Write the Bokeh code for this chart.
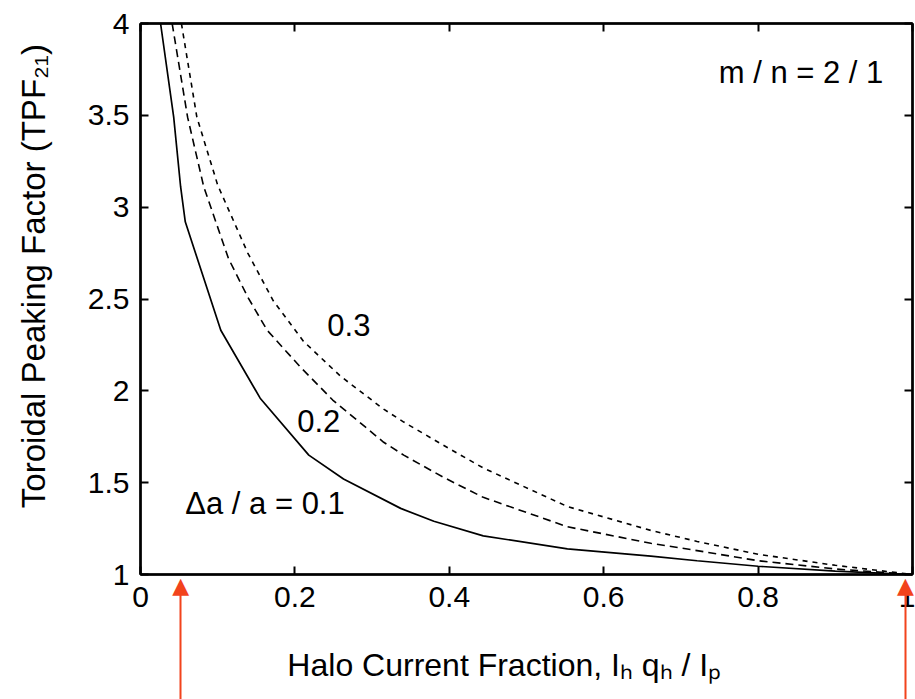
from bokeh.plotting import figure
from bokeh.models import Label, LinearAxis, Range1d, FixedTicker
from bokeh.embed import file_html
from bokeh.resources import INLINE

# ---- data ----
x_01 = [0.026, 0.043, 0.052, 0.058, 0.104, 0.155, 0.218, 0.263, 0.337, 0.38, 0.444, 0.553, 0.661, 0.721, 0.8, 0.9, 1.0]
y_01 = [4.0, 3.49, 3.11, 2.92, 2.33, 1.96, 1.65, 1.52, 1.36, 1.29, 1.21, 1.14, 1.10, 1.075, 1.045, 1.018, 1.0]

x_02 = [0.041, 0.061, 0.082, 0.114, 0.139, 0.164, 0.207, 0.249, 0.315, 0.341, 0.392, 0.444, 0.553, 0.661, 0.721, 0.8, 0.9, 1.0]
y_02 = [4.0, 3.49, 3.11, 2.72, 2.51, 2.33, 2.13, 1.95, 1.72, 1.65, 1.53, 1.42, 1.26, 1.17, 1.13, 1.075, 1.03, 1.0]

x_03 = [0.053, 0.073, 0.10, 0.139, 0.172, 0.211, 0.259, 0.315, 0.341, 0.398, 0.444, 0.553, 0.661, 0.721, 0.8, 0.9, 1.0]
y_03 = [4.0, 3.49, 3.12, 2.75, 2.49, 2.27, 2.08, 1.90, 1.83, 1.69, 1.58, 1.37, 1.24, 1.18, 1.11, 1.05, 1.0]

x_ticks = [0, 0.2, 0.4, 0.6, 0.8, 1.0]
x_tick_labels = ["0", "0.2", "0.4", "0.6", "0.8", "1"]
y_ticks = [1, 1.5, 2, 2.5, 3, 3.5, 4]
y_tick_labels = ["1", "1.5", "2", "2.5", "3", "3.5", "4"]

x_title = "Halo Current Fraction, I\u2095 q\u2095 / I\u209a" + "\u00a0" * 5
y_title = "\u00a0" * 5 + "Toroidal Peaking Factor (TPF\u2082\u2081)"

# red markers (arrows) below the axis, at these x values
arrow_x = [0.052, 0.991]

FONT = "Liberation Sans"
RED = "#f2431c"
W, H = 915, 699

p = figure(width=W, height=H, output_backend="svg", toolbar_location=None,
           x_range=Range1d(0, 1), y_range=Range1d(1, 4),
           min_border_left=140, min_border_right=3, min_border_top=23, min_border_bottom=125,
           x_axis_location=None, y_axis_location=None)
p.xgrid.visible = False
p.ygrid.visible = False
p.outline_line_color = "black"
p.outline_line_width = 2
p.background_fill_color = "white"
p.border_fill_color = "white"

def make_axis(ticks, labels, show_labels):
    ax = LinearAxis(ticker=FixedTicker(ticks=ticks),
                    major_label_overrides={t: l for t, l in zip(ticks, labels)})
    ax.axis_line_width = 2.5
    ax.axis_line_color = "black"
    ax.major_tick_in = 8
    ax.major_tick_out = 0
    ax.major_tick_line_width = 2
    ax.major_tick_line_color = "black"
    ax.minor_tick_line_color = None
    ax.major_label_text_font = FONT
    if show_labels:
        ax.major_label_text_font_size = "30px"
        ax.major_label_text_color = "black"
    else:
        ax.major_label_text_color = None
        ax.major_label_text_font_size = "1px"
        ax.major_label_standoff = 0
    return ax

bottom = make_axis(x_ticks, x_tick_labels, True)
bottom.major_label_standoff = 12
bottom.axis_label = x_title
bottom.axis_label_text_font = FONT
bottom.axis_label_text_font_size = "32px"
bottom.axis_label_text_font_style = "normal"
bottom.axis_label_text_color = "black"
bottom.axis_label_standoff = 37

left = make_axis(y_ticks, y_tick_labels, True)
left.major_label_standoff = 11
left.axis_label = y_title
left.axis_label_text_font = FONT
left.axis_label_text_font_size = "33px"
left.axis_label_text_font_style = "normal"
left.axis_label_text_color = "black"
left.axis_label_standoff = 33

top = make_axis(x_ticks, x_tick_labels, False)
right = make_axis(y_ticks, y_tick_labels, False)
p.add_layout(bottom, "below")
p.add_layout(left, "left")
p.add_layout(top, "above")
p.add_layout(right, "right")

# red arrows: long red ticks (shafts) with a triangle label (head)
arrows = LinearAxis(ticker=FixedTicker(ticks=arrow_x),
                    major_label_overrides={t: "\u25b2" for t in arrow_x})
arrows.axis_line_color = None
arrows.minor_tick_line_color = None
arrows.major_tick_line_color = RED
arrows.major_tick_line_width = 2
arrows.major_tick_in = 96
arrows.major_tick_out = 20
arrows.major_label_text_color = RED
arrows.major_label_text_font = "DejaVu Sans"
arrows.major_label_text_font_size = "22px"
arrows.major_label_standoff = -133
p.add_layout(arrows, "below")

# curves
p.line(x_01, y_01, line_color="black", line_width=1.7)
p.line(x_02, y_02, line_color="black", line_width=1.6, line_dash="8 5")
p.line(x_03, y_03, line_color="black", line_width=1.6, line_dash="5 5")

def lab(x, y, text, size):
    p.add_layout(Label(x=x, y=y, text=text, text_font=FONT, text_font_size=size,
                       text_color="black", text_align="left", text_baseline="middle"))

# in-plot annotations
lab(0.749, 3.733, "m / n = 2 / 1", "31px")
lab(0.058, 1.387, "\u0394a / a = 0.1", "31px")
lab(0.242, 2.356, "0.3", "31px")
lab(0.203, 1.838, "0.2", "31px")

open("out.html", "w").write(file_html(p, INLINE))
